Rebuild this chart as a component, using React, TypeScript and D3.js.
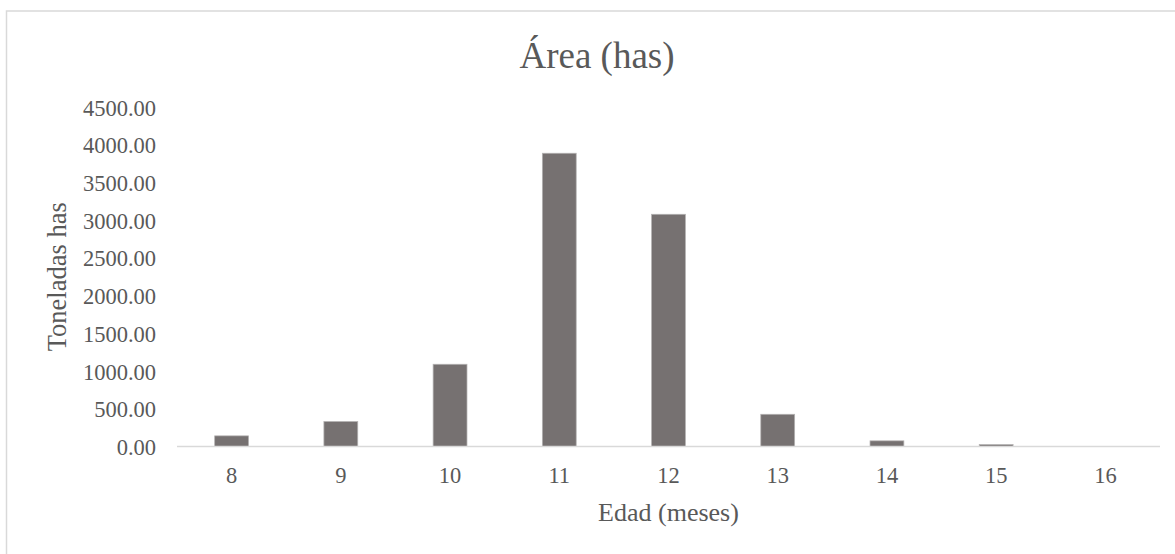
import React from "react";
import * as d3 from "d3";

// Age in months (categories) and harvested area per age
const edades: string[] = ["8", "9", "10", "11", "12", "13", "14", "15", "16"];
const areaHas: number[] = [141, 331, 1090, 3887, 3078, 427, 75, 25, 0];
const yTicks: number[] = [0, 500, 1000, 1500, 2000, 2500, 3000, 3500, 4000, 4500];

const W = 1175;
const H = 554;
const plot = { left: 177, right: 1160, top: 107, bottom: 446.5 };

const FONT = "'Liberation Serif', 'Times New Roman', serif";
const TEXT = "#595959";
const GRID = "#d9d9d9";
const BAR = "#767171";

export default function App() {
  const x = d3
    .scaleBand<string>()
    .domain(edades)
    .range([plot.left, plot.right])
    .paddingInner(0.69)
    .paddingOuter(0.345);

  const y = d3.scaleLinear().domain([0, 4500]).range([plot.bottom, plot.top]);
  const fmt = d3.format(".2f");

  return (
    <svg
      width={W}
      height={H}
      style={{ position: "absolute", left: 0, top: 0, background: "#fff" }}
      fontFamily={FONT}
    >
      {/* chart frame */}
      <rect x={6.5} y={11} width={W + 10} height={H + 10} fill="#fff" stroke={GRID} strokeWidth={1.5} />

      {/* title */}
      <text x={597} y={68} textAnchor="middle" fontSize={37} fill={TEXT}>
        Área (has)
      </text>

      {/* y tick labels */}
      {yTicks.map((t) => (
        <text key={t} x={156} y={y(t) + 8.5} textAnchor="end" fontSize={22.5} fill={TEXT}>
          {fmt(t)}
        </text>
      ))}

      {/* bars */}
      {edades.map((e, i) => (
        <rect
          key={e}
          x={x(e)!}
          y={y(areaHas[i])}
          width={x.bandwidth()}
          height={plot.bottom - y(areaHas[i])}
          fill={BAR}
          stroke="#b4b2b2"
          strokeWidth={0.75}
        />
      ))}

      {/* category axis line */}
      <line x1={plot.left} x2={plot.right} y1={plot.bottom} y2={plot.bottom} stroke={GRID} strokeWidth={1.5} />

      {/* x tick labels */}
      {edades.map((e) => (
        <text key={e} x={x(e)! + x.bandwidth() / 2} y={483} textAnchor="middle" fontSize={22.5} fill={TEXT}>
          {e}
        </text>
      ))}

      {/* axis titles */}
      <text x={(plot.left + plot.right) / 2} y={521} textAnchor="middle" fontSize={26} fill={TEXT}>
        Edad (meses)
      </text>
      <text
        transform={`translate(66, ${(plot.top + plot.bottom) / 2}) rotate(-90)`}
        textAnchor="middle"
        fontSize={26.5}
        fill={TEXT}
      >
        Toneladas has
      </text>
    </svg>
  );
}
